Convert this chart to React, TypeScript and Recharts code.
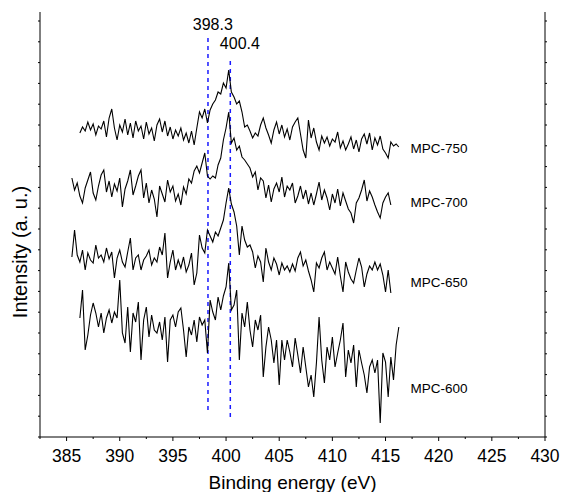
import { LineChart, Line, XAxis, YAxis, ReferenceLine, ReferenceDot } from 'recharts';

// N 1s spectra, one point every 0.25 eV, intensity in arbitrary units
const STEP = 0.25;
const START_750 = 386.25;
const START_700 = 385.5;
const START_650 = 385.5;
const START_600 = 386.25;

const MPC_750 = [
  304, 310, 306, 315, 307, 313, 302, 311, 308, 316,
  300, 319, 328, 309, 297, 312, 305, 318, 302, 314,
  299, 316, 306, 311, 298, 315, 303, 309, 296, 312,
  318, 305, 316, 301, 310, 298, 307, 301, 309, 297,
  304, 294, 306, 292, 309, 325, 319, 328, 314, 327,
  333, 337, 345, 343, 354, 349, 367, 345, 340, 333,
  336, 325, 310, 312, 306, 299, 304, 301, 312, 319,
  309, 302, 294, 307, 315, 303, 312, 300, 308, 297,
  310, 315, 319, 303, 287, 279, 317, 299, 309, 295,
  287, 301, 294, 300, 291, 298, 295, 305, 289, 296,
  287, 293, 300, 288, 297, 285, 298, 303, 293, 304,
  287, 299, 292, 301, 288, 284, 279, 295, 291, 293,
  290,
];

const MPC_700 = [
  259, 247, 254, 241, 234, 249, 257, 265, 244, 237,
  251, 262, 267, 245, 256, 240, 253, 246, 259, 230,
  248, 256, 267, 242, 251, 261, 267, 239, 254, 234,
  247, 238, 220, 251, 243, 235, 257, 245, 251, 236,
  243, 232, 250, 243, 258, 254, 266, 271, 264, 274,
  284, 261, 258, 261, 259, 272, 279, 297, 309, 325,
  294, 299, 287, 291, 280, 277, 273, 269, 260, 265,
  247, 259, 256, 239, 252, 235, 248, 254, 245, 260,
  240, 251, 247, 254, 234, 241, 251, 238, 247, 233,
  244, 232, 243, 255, 237, 247, 239, 227, 243, 234,
  248, 231, 244, 236, 228, 224, 214, 234, 239, 247,
  257, 236, 246, 240, 232, 225, 219, 234, 240, 244,
  232,
];

const MPC_650 = [
  180, 207, 182, 175, 187, 167, 184, 177, 174, 192,
  179, 182, 175, 189, 178, 185, 159, 179, 187, 175,
  170, 185, 199, 167, 179, 182, 167, 177, 181, 187,
  172, 179, 175, 190, 182, 204, 159, 175, 187, 167,
  177, 169, 180, 165, 172, 184, 152, 164, 202, 189,
  184, 207, 201, 195, 205, 201, 209, 217, 234, 249,
  233, 225, 211, 182, 211, 197, 190, 192, 185, 169,
  181, 175, 155, 189, 175, 167, 179, 173, 162, 174,
  167, 171, 165, 173, 166, 179, 185, 171, 177, 166,
  157, 145, 174, 169, 179, 185, 167, 175, 169, 163,
  180, 161, 145, 175, 165, 158, 154, 167, 179, 170,
  150, 163, 171, 167, 175, 167, 173, 162, 145, 167,
  144,
];

const MPC_600 = [
  119, 147, 87, 102, 122, 134, 124, 110, 124, 104,
  119, 127, 114, 125, 119, 157, 104, 94, 130, 85,
  124, 115, 135, 77, 117, 130, 100, 122, 107, 104,
  115, 97, 120, 75, 117, 122, 110, 125, 129, 107,
  80, 110, 102, 117, 95, 120, 112, 117, 84, 137,
  125, 117, 140, 127, 141, 150, 174, 127, 132, 147,
  77, 124, 110, 135, 107, 90, 117, 107, 122, 60,
  90, 110, 97, 74, 97, 52, 97, 77, 97, 85,
  70, 99, 82, 64, 90, 70, 50, 62, 40, 74,
  120, 77, 54, 90, 77, 100, 70, 84, 97, 114,
  60, 87, 74, 92, 50, 87, 74, 62, 44, 70,
  77, 64, 77, 14, 84, 75, 40, 80, 57, 92,
  110,
];

const X_TICKS = [
  382.5, 385, 387.5, 390, 392.5, 395, 397.5, 400, 402.5, 405, 407.5, 410,
  412.5, 415, 417.5, 420, 422.5, 425, 427.5, 430,
];
const Y_TICKS = [
  0, 20.8, 41.6, 62.4, 83.2, 104, 124.8, 145.6, 166.4, 187.2, 208, 228.8,
  249.6, 270.4, 291.2, 312, 332.8, 353.6, 374.4, 395.2, 416,
];

// dashed guide lines: energy, top, bottom
const PEAKS = [
  { e: 398.3, top: 399, bottom: 27 },
  { e: 400.4, top: 380, bottom: 20 },
];
const PEAK_LABELS = [
  { text: '398.3', e: 398.75, h: 413 },
  { text: '400.4', e: 401.3, h: 394 },
];
const SERIES = [
  { name: 'MPC-750', start: START_750, values: MPC_750, labelH: 289 },
  { name: 'MPC-700', start: START_700, values: MPC_700, labelH: 235 },
  { name: 'MPC-650', start: START_650, values: MPC_650, labelH: 155 },
  { name: 'MPC-600', start: START_600, values: MPC_600, labelH: 49 },
];
const LABEL_E = 417.35;

const FONT = '"Liberation Sans", Arial, sans-serif';

const toPoints = (start: number, values: number[]) =>
  values.map((v, i) => ({ e: Math.round((start + i * STEP) * 100) / 100, v }));

const BottomTick = (props: any) => {
  const { x, y, payload } = props;
  const major = payload.value % 5 === 0;
  return (
    <g>
      <line x1={x} y1={y} x2={x} y2={y + (major ? 4 : 2)} stroke="#000" />
      {major && (
        <text x={x} y={y + 25} textAnchor="middle" fontSize={17.5} fontFamily={FONT} fill="#000">
          {payload.value}
        </text>
      )}
    </g>
  );
};

const TopTick = (props: any) => {
  const { x, y, payload } = props;
  const major = payload.value % 5 === 0;
  return <line x1={x} y1={y} x2={x} y2={y + (major ? 3 : 2)} stroke="#000" />;
};

const LeftTick = (props: any) => {
  const { x, y } = props;
  return <line x1={x} y1={y} x2={x - 2} y2={y} stroke="#000" />;
};

const RightTick = (props: any) => {
  const { x, y } = props;
  return <line x1={x} y1={y} x2={x + 2} y2={y} stroke="#000" />;
};

const TextAt = ({ viewBox, text, size, anchor }: any) => (
  <text
    x={viewBox.x}
    y={viewBox.y}
    textAnchor={anchor}
    dominantBaseline="central"
    fontSize={size}
    fontFamily={FONT}
    fill="#000"
  >
    {text}
  </text>
);

const XTitle = ({ viewBox }: any) => (
  <text
    x={viewBox.x + viewBox.width / 2}
    y={viewBox.y + 52}
    textAnchor="middle"
    fontSize={19}
    fontFamily={FONT}
    fill="#000"
  >
    Binding energy (eV)
  </text>
);

const YTitle = () => {
  const cx = 20;
  const cy = 252;
  return (
    <text
      x={cx}
      y={cy}
      transform={`rotate(-90 ${cx} ${cy})`}
      textAnchor="middle"
      dominantBaseline="central"
      fontSize={20}
      fontFamily={FONT}
      fill="#000"
    >
      Intensity (a. u.)
    </text>
  );
};

export default function App() {
  return (
    <div style={{ position: 'absolute', left: 0, top: 0, background: '#fff' }}>
      <LineChart width={563} height={492} margin={{ top: 12, right: 0, bottom: 0, left: 0 }}>
        <XAxis
          xAxisId="b"
          type="number"
          dataKey="e"
          domain={[382.5, 430]}
          ticks={X_TICKS}
          interval={0}
          allowDataOverflow
          height={55}
          tickSize={0}
          tickMargin={0}
          tickLine={false}
          tick={<BottomTick />}
          axisLine={{ stroke: '#000' }}
          label={<XTitle />}
        />
        <XAxis
          xAxisId="t"
          orientation="top"
          type="number"
          dataKey="e"
          domain={[382.5, 430]}
          ticks={X_TICKS}
          interval={0}
          allowDataOverflow
          height={0}
          tickSize={0}
          tickMargin={0}
          tickLine={false}
          tick={<TopTick />}
          axisLine={{ stroke: '#000' }}
        />
        <YAxis
          yAxisId="l"
          type="number"
          domain={[0, 425]}
          ticks={Y_TICKS}
          interval={0}
          allowDataOverflow
          width={40}
          tickSize={0}
          tickMargin={0}
          tickLine={false}
          tick={<LeftTick />}
          axisLine={{ stroke: '#000' }}
          label={<YTitle />}
        />
        <YAxis
          yAxisId="r"
          orientation="right"
          type="number"
          domain={[0, 425]}
          ticks={Y_TICKS}
          interval={0}
          allowDataOverflow
          width={18}
          tickSize={0}
          tickMargin={0}
          tickLine={false}
          tick={<RightTick />}
          axisLine={{ stroke: '#000' }}
        />
        {PEAKS.map((p) => (
          <ReferenceLine
            key={p.e}
            xAxisId="b"
            yAxisId="l"
            segment={[
              { x: p.e, y: p.bottom },
              { x: p.e, y: p.top },
            ]}
            stroke="#1a1aff"
            strokeWidth={1.5}
            strokeDasharray="4 4"
          />
        ))}
        {SERIES.map((s) => (
          <Line
            key={s.name}
            xAxisId="b"
            yAxisId="l"
            data={toPoints(s.start, s.values)}
            dataKey="v"
            type="linear"
            stroke="#000"
            strokeWidth={1.1}
            dot={false}
            activeDot={false}
            isAnimationActive={false}
          />
        ))}
        {PEAK_LABELS.map((p) => (
          <ReferenceDot
            key={p.text}
            xAxisId="b"
            yAxisId="l"
            x={p.e}
            y={p.h}
            r={0}
            stroke="none"
            fill="none"
            label={<TextAt text={p.text} size={16} anchor="middle" />}
          />
        ))}
        {SERIES.map((s) => (
          <ReferenceDot
            key={'lbl' + s.name}
            xAxisId="b"
            yAxisId="l"
            x={LABEL_E}
            y={s.labelH}
            r={0}
            stroke="none"
            fill="none"
            label={<TextAt text={s.name} size={13.5} anchor="start" />}
          />
        ))}
      </LineChart>
    </div>
  );
}
